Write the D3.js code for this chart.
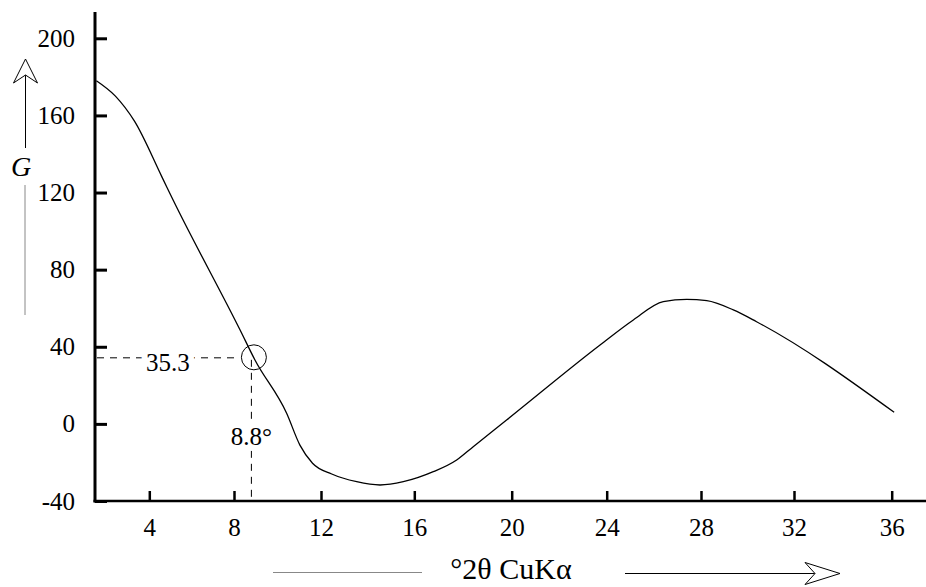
<!DOCTYPE html>
<html>
<head>
<meta charset="utf-8">
<style>
  body { margin: 0; background: #fff; }
  svg { display: block; }
</style>
<script src="https://cdn.jsdelivr.net/npm/d3@7"></script>
</head>
<body>
<div id="chart"></div>
<script>
// Tick values on both axes
const xTicks = [4, 8, 12, 16, 20, 24, 28, 32, 36];
const yTicks = [-40, 0, 40, 80, 120, 160, 200];

// Curve: G versus °2θ
const twoTheta = [1.5, 2.4, 3.3, 4.6, 5.13, 8.28, 8.97, 10.42, 11.03, 11.61, 12.46, 13.53, 14.53,
  15.53, 16.78, 17.74, 18.42, 19.79, 23.72, 25.13, 26.4, 27.39, 28.25, 29.39, 30.39, 36.1];
const gValues = [178, 170, 157, 128, 116, 48.7, 33, 5.5, -11, -20.4, -26, -30, -31.7,
  -30, -24.8, -18.7, -11.8, 2, 40.9, 53.9, 63.4, 64.6, 63.9, 59.1, 53, 6];

// Marked point
const markTheta = 8.8;
const markG = 35.3;
const markThetaLabel = "8.8°";
const markGLabel = "35.3";

const xTitle = "°2θ CuKα";
const yTitle = "G";

// The scanned axis is not evenly spaced, so the x scale is calibrated on each tick.
const LAYOUT = {
  width: 926,
  height: 587,
  axisX: 95,
  axisY: 501,
  axisTop: 12,
  yTopPx: 38.3,
  xTickPx: [149.3, 234, 321, 414.3, 511.7, 606.7, 701, 794, 891.7],
  font: "'Liberation Serif', 'Times New Roman', serif"
};

/**
 * Builds the x and y scales.
 *
 * @returns {{x: object, y: object}}
 */
function buildScales() {
  const x = d3.scaleLinear().domain(xTicks).range(LAYOUT.xTickPx);
  const y = d3.scaleLinear().domain([yTicks[0], yTicks[yTicks.length - 1]]).range([LAYOUT.axisY, LAYOUT.yTopPx]);
  return { x, y };
}

/**
 * Draws both axes with inward ticks and heavy axis lines.
 *
 * @param {object} svg
 * @param {{x: object, y: object}} scales
 * @returns {void}
 */
function renderAxes(svg, scales) {
  const styleAxis = (g, width) => {
    g.select(".domain").remove();
    g.attr("font-size", 25).attr("font-family", LAYOUT.font);
    g.selectAll("line").attr("stroke", "#000").attr("stroke-width", width);
    g.selectAll("text").attr("fill", "#000");
  };

  svg.append("g")
    .attr("transform", `translate(${LAYOUT.axisX},0)`)
    .call(d3.axisLeft(scales.y).tickValues(yTicks).tickFormat(String).tickSize(-12).tickPadding(20))
    .call((g) => styleAxis(g, 3));

  svg.append("g")
    .attr("transform", `translate(0,${LAYOUT.axisY})`)
    .call(d3.axisBottom(scales.x).tickValues(xTicks).tickFormat(String).tickSize(-10).tickPadding(17))
    .call((g) => styleAxis(g, 2.5));

  svg.append("line")
    .attr("x1", LAYOUT.axisX).attr("x2", LAYOUT.axisX)
    .attr("y1", LAYOUT.axisTop).attr("y2", LAYOUT.axisY + 1.5)
    .attr("stroke", "#000").attr("stroke-width", 3);

  svg.append("line")
    .attr("x1", LAYOUT.axisX - 1.5).attr("x2", LAYOUT.width)
    .attr("y1", LAYOUT.axisY).attr("y2", LAYOUT.axisY)
    .attr("stroke", "#000").attr("stroke-width", 2.5);
}

/**
 * Draws the G curve.
 *
 * @param {object} svg
 * @param {{x: object, y: object}} scales
 * @returns {void}
 */
function renderCurve(svg, scales) {
  const points = twoTheta.map((t, i) => [t, gValues[i]]);
  const line = d3.line()
    .x((d) => scales.x(d[0]))
    .y((d) => scales.y(d[1]))
    .curve(d3.curveMonotoneX);
  svg.append("path")
    .datum(points)
    .attr("d", line)
    .attr("fill", "none")
    .attr("stroke", "#000")
    .attr("stroke-width", 1.3);
}

/**
 * Draws the circled point with its dashed guides and labels.
 *
 * @param {object} svg
 * @param {{x: object, y: object}} scales
 * @returns {void}
 */
function renderMarker(svg, scales) {
  const cx = scales.x(markTheta);
  const cy = scales.y(markG);
  const r = 12.5;
  const guides = svg.append("g")
    .attr("stroke", "#000")
    .attr("stroke-width", 1)
    .attr("stroke-dasharray", "7,6");
  guides.append("line")
    .attr("x1", LAYOUT.axisX + 2).attr("x2", cx - r)
    .attr("y1", cy + 2).attr("y2", cy + 2);
  guides.append("line")
    .attr("x1", cx).attr("x2", cx)
    .attr("y1", cy + 4).attr("y2", LAYOUT.axisY - 1);

  svg.append("circle")
    .attr("cx", cx + 2.5).attr("cy", cy + 1.5).attr("r", r)
    .attr("fill", "none").attr("stroke", "#000").attr("stroke-width", 1);

  const labels = [
    { text: markGLabel, x: (LAYOUT.axisX + cx - r) / 2 + 1, y: cy + 15 },
    { text: markThetaLabel, x: cx, y: scales.y(-8) + 6 }
  ];
  svg.append("g")
    .selectAll("text")
    .data(labels)
    .join("text")
    .attr("x", (d) => d.x)
    .attr("y", (d) => d.y)
    .attr("text-anchor", "middle")
    .attr("font-family", LAYOUT.font)
    .attr("font-size", 25)
    .attr("fill", "#000")
    .attr("stroke", "#fff")
    .attr("stroke-width", 12)
    .attr("paint-order", "stroke")
    .text((d) => d.text);
}

/**
 * Builds an open arrowhead path.
 *
 * @param {number} tipX
 * @param {number} tipY
 * @param {number} angle  direction of the arrow in radians
 * @param {number} length
 * @param {number} half
 * @param {number} notch
 * @returns {string}
 */
function arrowHead(tipX, tipY, angle, length, half, notch) {
  const ux = Math.cos(angle);
  const uy = Math.sin(angle);
  const px = -uy;
  const py = ux;
  const bx = tipX - ux * length;
  const by = tipY - uy * length;
  const p = d3.path();
  p.moveTo(tipX, tipY);
  p.lineTo(bx + px * half, by + py * half);
  p.lineTo(tipX - ux * (length - notch), tipY - uy * (length - notch));
  p.lineTo(bx - px * half, by - py * half);
  p.closePath();
  return p.toString();
}

/**
 * Draws the axis titles with their arrows.
 *
 * @param {object} svg
 * @returns {void}
 */
function renderTitles(svg) {
  // y title
  svg.append("line")
    .attr("x1", 25.5).attr("x2", 25.5).attr("y1", 75).attr("y2", 148)
    .attr("stroke", "#000").attr("stroke-width", 1);
  svg.append("path")
    .attr("d", arrowHead(25.5, 59, -Math.PI / 2, 24, 12, 8))
    .attr("fill", "#fff").attr("stroke", "#000").attr("stroke-width", 1);
  svg.append("text")
    .attr("x", 21).attr("y", 176)
    .attr("text-anchor", "middle")
    .attr("font-family", LAYOUT.font)
    .attr("font-style", "italic")
    .attr("font-size", 28)
    .text(yTitle);
  svg.append("line")
    .attr("x1", 25).attr("x2", 25).attr("y1", 185).attr("y2", 315)
    .attr("stroke", "#888").attr("stroke-width", 1);

  // x title
  svg.append("line")
    .attr("x1", 273).attr("x2", 422).attr("y1", 572.5).attr("y2", 572.5)
    .attr("stroke", "#888").attr("stroke-width", 1);
  svg.append("text")
    .attr("x", 511).attr("y", 579)
    .attr("text-anchor", "middle")
    .attr("font-family", LAYOUT.font)
    .attr("font-size", 30)
    .text(xTitle);
  svg.append("line")
    .attr("x1", 625).attr("x2", 815).attr("y1", 573.5).attr("y2", 573.5)
    .attr("stroke", "#000").attr("stroke-width", 1);
  svg.append("path")
    .attr("d", arrowHead(840, 573.5, 0, 35, 11, 10))
    .attr("fill", "#fff").attr("stroke", "#000").attr("stroke-width", 1);
}

/**
 * Renders the whole chart.
 *
 * @param {HTMLElement} container
 * @returns {void}
 */
function renderChart(container) {
  const svg = d3.create("svg")
    .attr("width", LAYOUT.width)
    .attr("height", LAYOUT.height)
    .attr("viewBox", [0, 0, LAYOUT.width, LAYOUT.height]);
  const scales = buildScales();
  renderAxes(svg, scales);
  renderCurve(svg, scales);
  renderMarker(svg, scales);
  renderTitles(svg);
  container.appendChild(svg.node());
}

renderChart(document.getElementById("chart"));
</script>
</body>
</html>
